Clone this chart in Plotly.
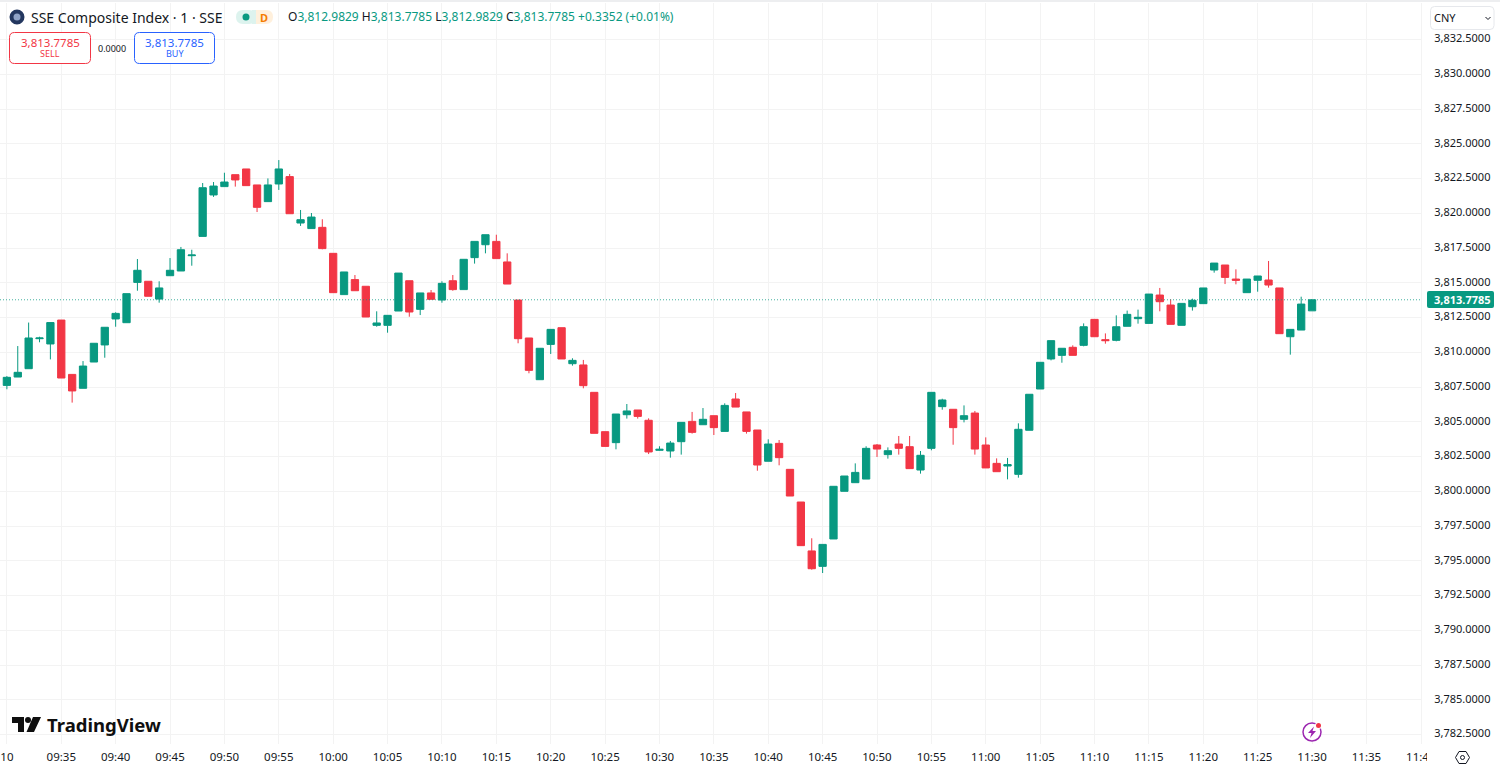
import pandas as pd
import plotly.graph_objects as go

# one minute candles, 09:30 to 11:30
opens = [
    3807.62, 3808.22, 3808.82, 3810.98, 3810.60, 3812.32, 3808.41, 3807.41, 3809.30, 3810.53,
    3812.40, 3812.13, 3815.03, 3815.11, 3813.83, 3815.51, 3815.85, 3816.95, 3818.34, 3821.32,
    3821.92, 3822.78, 3823.19, 3822.04, 3820.84, 3822.11, 3822.64, 3819.30, 3818.90, 3818.99,
    3817.12, 3814.15, 3815.23, 3814.75, 3811.94, 3811.94, 3812.97, 3815.15, 3813.09, 3814.27,
    3813.76, 3815.15, 3814.51, 3816.81, 3817.74, 3817.98, 3816.50, 3813.76, 3811.03, 3808.03,
    3810.57, 3811.77, 3809.18, 3809.09, 3807.12, 3804.29, 3803.50, 3805.51, 3805.85, 3805.11,
    3802.95, 3802.90, 3803.57, 3805.03, 3804.79, 3805.44, 3804.31, 3806.64, 3805.71, 3804.41,
    3802.16, 3803.45, 3801.58, 3799.23, 3795.71, 3794.60, 3796.57, 3800.00, 3800.62, 3800.88,
    3803.33, 3802.64, 3803.40, 3803.21, 3801.53, 3803.09, 3806.09, 3805.90, 3805.18, 3805.63,
    3803.33, 3802.01, 3801.82, 3801.22, 3804.39, 3807.36, 3809.52, 3809.78, 3810.36, 3810.50,
    3812.37, 3810.91, 3810.86, 3811.87, 3812.42, 3812.08, 3814.12, 3813.40, 3811.94, 3813.28,
    3813.50, 3815.92, 3816.28, 3815.27, 3814.29, 3815.18, 3815.20, 3814.63, 3811.12, 3811.60,
    3812.9829,
]
highs = [
    3808.29, 3810.45, 3812.14, 3811.12, 3812.14, 3812.32, 3808.41, 3809.37, 3810.65, 3811.80,
    3812.88, 3814.22, 3816.71, 3815.11, 3815.11, 3816.78, 3817.58, 3817.38, 3822.18, 3822.25,
    3822.92, 3822.78, 3823.19, 3822.04, 3822.51, 3823.83, 3822.83, 3820.24, 3820.02, 3819.57,
    3817.12, 3815.78, 3815.56, 3814.75, 3812.95, 3812.66, 3815.70, 3815.15, 3814.27, 3814.48,
    3815.11, 3815.56, 3816.69, 3817.98, 3818.46, 3818.46, 3817.12, 3813.76, 3811.03, 3810.29,
    3811.65, 3811.77, 3809.57, 3809.45, 3807.12, 3804.29, 3805.56, 3806.28, 3805.85, 3805.25,
    3803.24, 3803.62, 3804.96, 3805.71, 3805.99, 3805.44, 3806.33, 3807.07, 3805.71, 3804.41,
    3803.74, 3803.69, 3801.58, 3799.23, 3796.62, 3796.18, 3800.36, 3801.10, 3802.01, 3803.24,
    3803.40, 3803.16, 3803.98, 3803.98, 3802.90, 3807.12, 3806.66, 3805.90, 3806.18, 3805.78,
    3803.88, 3802.37, 3802.40, 3804.89, 3806.98, 3809.28, 3810.84, 3810.29, 3810.50, 3812.08,
    3812.37, 3811.36, 3812.66, 3813.00, 3813.07, 3814.19, 3814.63, 3813.81, 3813.52, 3813.86,
    3814.63, 3816.42, 3816.28, 3815.97, 3815.27, 3815.49, 3816.57, 3814.63, 3811.65, 3814.00,
    3813.7785,
]
lows = [
    3807.34, 3808.22, 3808.82, 3810.72, 3809.49, 3808.15, 3806.38, 3807.41, 3809.30, 3809.61,
    3811.84, 3812.13, 3814.43, 3814.03, 3813.57, 3815.51, 3815.85, 3816.23, 3818.34, 3821.18,
    3821.92, 3821.92, 3821.99, 3820.09, 3820.84, 3821.68, 3819.97, 3819.09, 3818.90, 3817.41,
    3814.29, 3814.15, 3814.43, 3812.54, 3811.84, 3811.41, 3812.97, 3812.56, 3812.68, 3813.81,
    3813.57, 3814.43, 3814.51, 3816.38, 3817.12, 3816.74, 3814.91, 3810.65, 3808.49, 3808.03,
    3809.88, 3809.52, 3809.04, 3807.41, 3804.17, 3803.23, 3803.02, 3805.23, 3805.23, 3802.68,
    3802.92, 3802.42, 3802.64, 3804.15, 3804.79, 3804.05, 3804.31, 3806.06, 3804.15, 3801.48,
    3802.16, 3801.87, 3799.66, 3796.09, 3794.36, 3794.12, 3796.57, 3800.00, 3800.62, 3800.88,
    3802.47, 3802.35, 3802.64, 3801.63, 3801.27, 3802.95, 3805.87, 3803.35, 3804.96, 3802.64,
    3801.68, 3801.41, 3800.86, 3800.98, 3804.39, 3807.36, 3809.42, 3809.25, 3809.78, 3810.43,
    3811.12, 3810.62, 3810.79, 3811.87, 3812.06, 3812.08, 3812.95, 3812.01, 3811.94, 3813.00,
    3813.50, 3815.73, 3814.91, 3814.89, 3814.29, 3814.36, 3814.65, 3811.34, 3809.83, 3811.60,
    3812.9829,
]
closes = [
    3808.20, 3808.56, 3811.03, 3811.03, 3812.14, 3808.15, 3807.22, 3809.01, 3810.65, 3811.80,
    3812.80, 3814.22, 3815.90, 3814.03, 3814.63, 3815.90, 3817.38, 3817.00, 3821.84, 3821.96,
    3822.25, 3822.40, 3821.99, 3820.43, 3822.04, 3823.19, 3819.97, 3819.54, 3819.73, 3817.46,
    3814.29, 3815.78, 3814.43, 3812.54, 3812.11, 3812.66, 3815.70, 3812.90, 3814.27, 3813.81,
    3814.96, 3814.51, 3816.69, 3817.98, 3818.46, 3816.74, 3814.91, 3810.98, 3808.70, 3810.29,
    3811.65, 3809.52, 3809.42, 3807.60, 3804.17, 3803.23, 3805.56, 3805.78, 3805.39, 3802.83,
    3803.02, 3803.47, 3804.96, 3804.24, 3805.18, 3804.58, 3806.18, 3806.06, 3804.31, 3801.89,
    3803.40, 3802.42, 3799.66, 3796.09, 3794.43, 3796.18, 3800.36, 3801.10, 3801.36, 3803.09,
    3803.04, 3802.92, 3803.09, 3801.63, 3802.59, 3807.12, 3806.57, 3804.58, 3805.44, 3803.04,
    3801.68, 3801.41, 3801.92, 3804.46, 3806.98, 3809.28, 3810.84, 3810.29, 3809.78, 3811.84,
    3811.12, 3810.84, 3811.84, 3812.73, 3812.52, 3814.19, 3813.64, 3812.01, 3813.52, 3813.74,
    3814.63, 3816.42, 3815.39, 3815.18, 3815.27, 3815.49, 3814.84, 3811.34, 3811.65, 3813.47,
    3813.7785,
]

tick_times = ["09:30", "09:35", "09:40", "09:45", "09:50", "09:55", "10:00", "10:05", "10:10", "10:15",
              "10:20", "10:25", "10:30", "10:35", "10:40", "10:45", "10:50", "10:55", "11:00", "11:05",
              "11:10", "11:15", "11:20", "11:25", "11:30", "11:35", "11:40"]
tick_labels = ["10"] + tick_times[1:]
price_ticks = [3782.5 + 2.5 * i for i in range(21)]

GREEN = "#089981"
RED = "#F23645"
BLUE = "#2962FF"
TEXT = "#131722"
GRID = "#F3F3F3"
FONT = "Noto Sans"

day = "2025-10-10 "
times = pd.date_range(day + "09:30", periods=len(closes), freq="min")

# plot area in page pixels
W, H = 1500, 769
LEFT, RIGHT, TOP, BOTTOM = 0, 1421, 3, 744


def px(x):
    return (x - LEFT) / (RIGHT - LEFT)


def py(y):
    return (BOTTOM - y) / (BOTTOM - TOP)


fig = go.Figure()
fig.add_trace(
    go.Candlestick(
        x=times,
        open=opens,
        high=highs,
        low=lows,
        close=closes,
        increasing=dict(line=dict(color=GREEN, width=1), fillcolor=GREEN),
        decreasing=dict(line=dict(color=RED, width=1), fillcolor=RED),
        whiskerwidth=0,
        showlegend=False,
        hoverinfo="skip",
    )
)

shapes = []


def rect(x0, y0, x1, y1, fill="white", line=None, width=1):
    shapes.append(dict(type="rect", xref="paper", yref="paper", x0=px(x0), x1=px(x1), y0=py(y1), y1=py(y0),
                       fillcolor=fill, line=dict(color=line or "rgba(0,0,0,0)", width=width if line else 0),
                       layer="above"))


def rounded(x0, y0, x1, y1, r, fill="white", line=None, width=1):
    d = (f"M{px(x0 + r)} {py(y0)} L{px(x1 - r)} {py(y0)} Q{px(x1)} {py(y0)} {px(x1)} {py(y0 + r)} "
         f"L{px(x1)} {py(y1 - r)} Q{px(x1)} {py(y1)} {px(x1 - r)} {py(y1)} "
         f"L{px(x0 + r)} {py(y1)} Q{px(x0)} {py(y1)} {px(x0)} {py(y1 - r)} "
         f"L{px(x0)} {py(y0 + r)} Q{px(x0)} {py(y0)} {px(x0 + r)} {py(y0)} Z")
    shapes.append(dict(type="path", xref="paper", yref="paper", path=d, fillcolor=fill,
                       line=dict(color=line or "rgba(0,0,0,0)", width=width if line else 0), layer="above"))


def circle(cx, cy, r, fill="white", line=None, width=1):
    shapes.append(dict(type="circle", xref="paper", yref="paper", x0=px(cx - r), x1=px(cx + r),
                       y0=py(cy + r), y1=py(cy - r), fillcolor=fill,
                       line=dict(color=line or "rgba(0,0,0,0)", width=width if line else 0), layer="above"))


def poly(points, fill=None, line=None, width=1):
    d = "M" + " L".join(f"{px(x)} {py(y)}" for x, y in points)
    if fill:
        d += " Z"
    shapes.append(dict(type="path", xref="paper", yref="paper", path=d, fillcolor=fill or "rgba(0,0,0,0)",
                       line=dict(color=line or "rgba(0,0,0,0)", width=width if line else 0), layer="above"))


# last price line
shapes.append(dict(type="line", xref="paper", yref="y", x0=0, x1=1, y0=closes[-1], y1=closes[-1],
                   line=dict(color=GREEN, width=1, dash="1px,2px"), layer="above", opacity=0.75))

# top band of the widget
rect(0, 0, 1500, 2, fill="#EDEEF0")
# hides the end of the cut off time label
rect(1427, 746, 1500, 769)

# price tag
rounded(1427, 291, 1494, 308, 2, fill=GREEN)
# currency box
rounded(1430.5, 6.5, 1494, 29.5, 4, fill="white", line="#E6E8EC")
poly([(1485.5, 17), (1488, 19.5), (1490.5, 17)], line=TEXT, width=1)

# symbol logo and status pill
circle(17, 17, 7.5, fill="#23375F")
circle(17, 17, 3.5, fill="#8FA3C7")
rounded(236, 10, 256, 24, 7, fill="#DDF3EE")
rounded(256, 10, 273, 24, 7, fill="#FFF0DC")
rect(252, 10, 256, 24, fill="#DDF3EE")
rect(256, 10, 262, 24, fill="#FFF0DC")
circle(246, 17, 3.5, fill=GREEN)

# sell and buy boxes
rounded(9.5, 32.5, 90.5, 63.5, 5, line=RED)
rounded(134.5, 32.5, 214.5, 63.5, 5, line=BLUE)

# TradingView mark
poly([(12, 717), (24, 717), (24, 732), (18, 732), (18, 723), (12, 723)], fill="#0F0F0F")
circle(28, 720, 3, fill="#0F0F0F")
poly([(33, 717), (41, 717), (34, 732), (26.5, 732)], fill="#0F0F0F")

# lightning badge
circle(1312, 732, 9, fill="white", line="#9C27B0", width=1.5)
poly([(1314, 726.5), (1308, 733), (1311.5, 733), (1310, 738), (1316, 731), (1312.5, 731)], fill="#9C27B0")
circle(1318.5, 725.5, 3.5, fill="white")
circle(1318.5, 725.5, 2.5, fill=RED)

# settings hexagon
poly([(1455.5, 757.5), (1459, 751.5), (1466, 751.5), (1469.5, 757.5), (1466, 763.5), (1459, 763.5)],
     fill="white", line=TEXT, width=1)
circle(1462.5, 757.5, 2, fill="white", line=TEXT, width=1)

annotations = []


def label(x, y, text, size=12, color=TEXT, anchor="left", bold=False):
    annotations.append(dict(xref="paper", yref="paper", x=px(x), y=py(y), text=f"<b>{text}</b>" if bold else text,
                            showarrow=False, xanchor=anchor, yanchor="middle",
                            font=dict(family=FONT, size=size, color=color), borderpad=0))


def num(v):
    return f"{v:,.4f}"


last = num(closes[-1])
label(30, 17.5, "SSE Composite Index · 1 · SSE", size=14)
label(263.5, 17.5, "D", size=11, color="#F57C00", anchor="center", bold=True)

vals = [("O", opens[-1]), ("H", highs[-1]), ("L", lows[-1]), ("C", closes[-1])]
ohlc = " ".join(f"{k}<span style='color:{GREEN}'>{num(v)}</span>" for k, v in vals)
label(287, 17, ohlc + f" <span style='color:{GREEN}'>+0.3352 (+0.01%)</span>", size=12)

label(50, 42, last, size=11.5, color=RED, anchor="center")
label(50, 54, "SELL", size=9, color=RED, anchor="center")
label(112, 48, "0.0000", size=9, anchor="center")
label(174.5, 42, last, size=11.5, color=BLUE, anchor="center")
label(174.5, 54, "BUY", size=9, color=BLUE, anchor="center")

label(1433, 18, "CNY", size=11)
label(1462.5, 299.5, last, size=11, color="white", anchor="center", bold=True)
label(46, 724.5, "TradingView", size=18.5, color="#0F0F0F", bold=True)

fig.update_layout(
    width=W,
    height=H,
    autosize=False,
    paper_bgcolor="white",
    plot_bgcolor="white",
    margin=dict(l=LEFT, r=W - RIGHT, t=TOP, b=H - BOTTOM, pad=0),
    boxgap=0.33,
    boxgroupgap=0,
    shapes=shapes,
    annotations=annotations,
    font=dict(family=FONT, size=11.5, color=TEXT),
    xaxis=dict(
        type="date",
        range=[day + "09:29:22", day + "11:40:01"],
        rangeslider=dict(visible=False),
        tickmode="array",
        tickvals=[day + t for t in tick_times],
        ticktext=tick_labels,
        tickangle=0,
        ticks="",
        ticklabelstandoff=4,
        showgrid=True,
        gridcolor=GRID,
        gridwidth=1,
        zeroline=False,
        showline=False,
    ),
    yaxis=dict(
        side="right",
        range=[3781.82, 3835.13],
        tickmode="array",
        tickvals=price_ticks,
        tickformat=",.4f",
        tickfont=dict(size=11),
        ticks="",
        ticklabelstandoff=10,
        ticklabelshift=-1,
        showgrid=True,
        gridcolor=GRID,
        gridwidth=1,
        zeroline=False,
        showline=True,
        linecolor=GRID,
    ),
)

fig.write_html("out.html", config=dict(displayModeBar=False),
               post_script="document.body.style.margin='0';")
